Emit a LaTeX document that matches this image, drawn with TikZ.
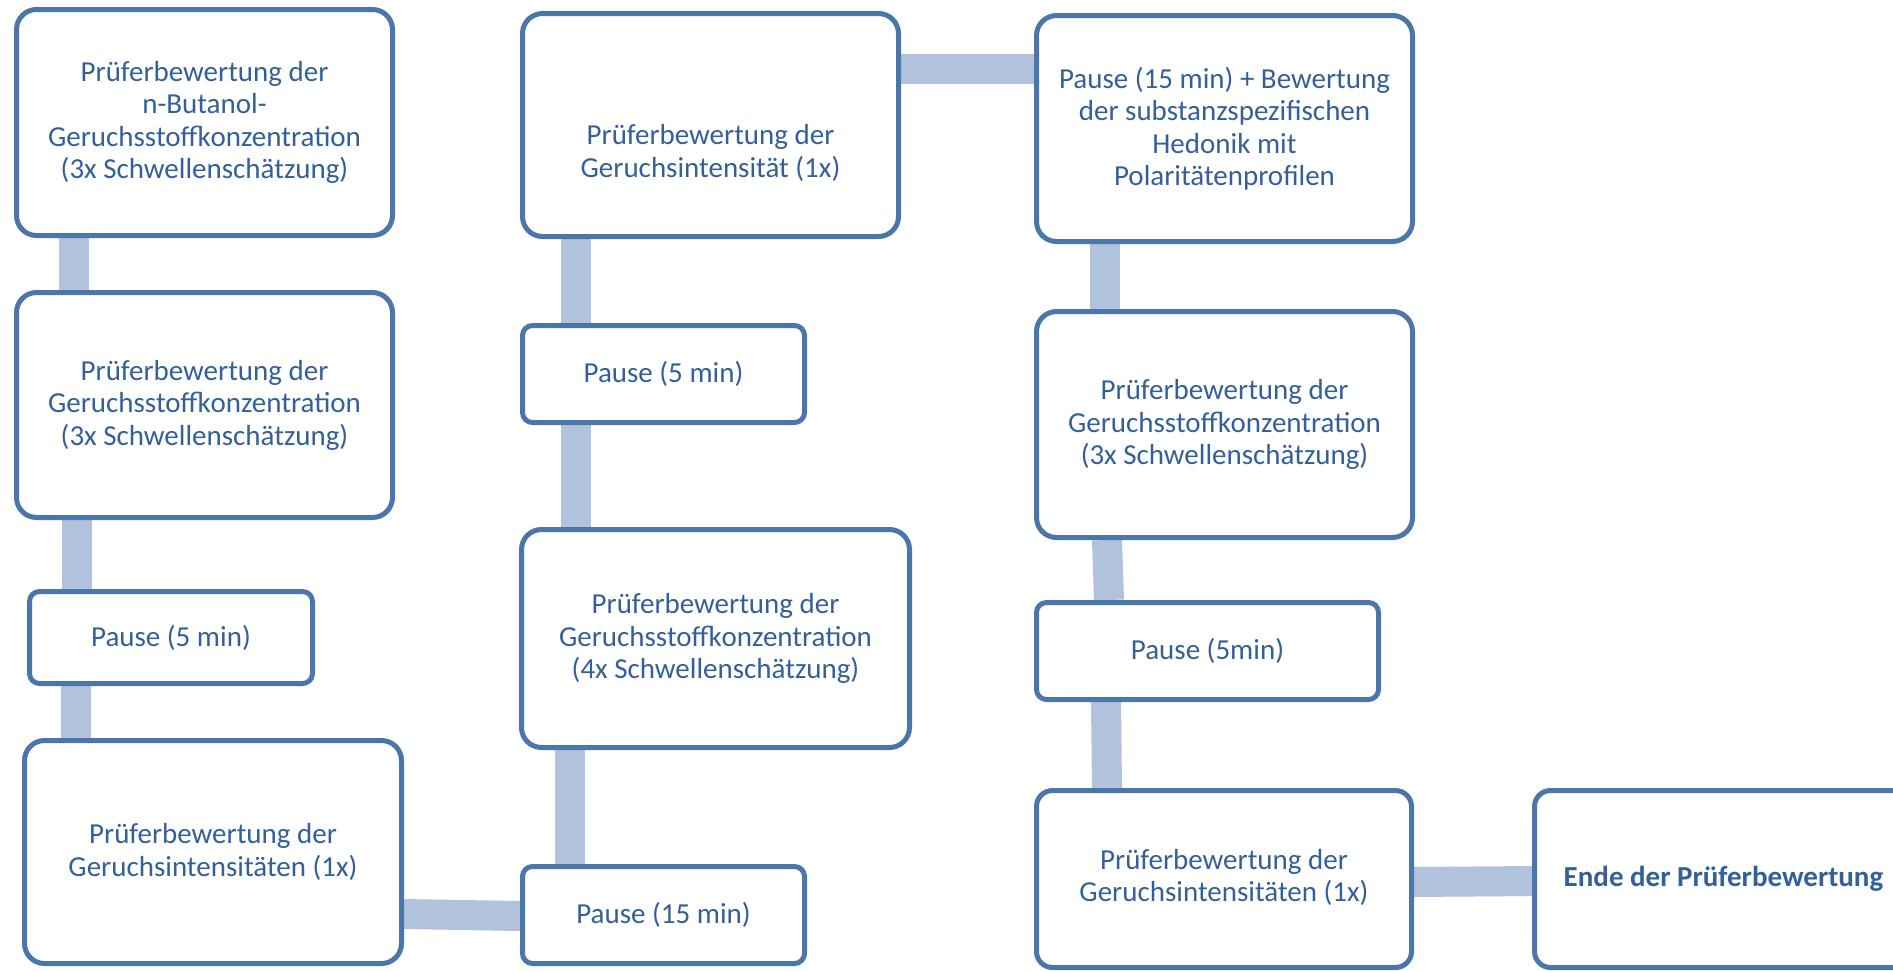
\documentclass[tikz,border=0pt]{standalone}
\usepackage{fontspec}
\setmainfont{Carlito}
\usetikzlibrary{calc,backgrounds}
\definecolor{bord}{HTML}{4A76AC}
\definecolor{txtc}{HTML}{33609A}
\definecolor{connc}{HTML}{B1C2DC}
\tikzset{
  box/.style={draw=bord, line width=5pt, fill=white, rounded corners=20pt,
    anchor=north west, align=center, text=txtc, inner sep=0pt,
    font=\fontsize{29}{32.5}\selectfont},
  smallbox/.style={box, rounded corners=10pt},
  txt/.style={align=center, text=txtc, inner sep=0pt, font=\fontsize{29}{32.5}\selectfont},
  link/.style={draw=connc, line width=30pt},
}
\begin{document}
\begin{tikzpicture}[x=1pt,y=-1pt]
\useasboundingbox (0,0) rectangle (1893,970);
\clip (0,0) rectangle (1893,970);
% column 1
\node[box, minimum width=376pt, minimum height=226pt] (A) at (14,7)
  {Prüferbewertung der\\n-Butanol-\\Geruchsstoffkonzentration\\(3x Schwellenschätzung)};
\node[box, minimum width=376pt, minimum height=225pt] (B) at (14,290)
  {Prüferbewertung der\\Geruchsstoffkonzentration\\(3x Schwellenschätzung)};
\node[smallbox, minimum width=283pt, minimum height=92pt] (C) at (27,589)
  {Pause (5 min)};
\node[box, minimum width=377pt, minimum height=223pt] (D) at (22,738)
  {Prüferbewertung der\\Geruchsintensitäten (1x)};
% column 2
\node[box, minimum width=376pt, minimum height=223pt] (E) at (520,11) {};
\node[txt] (Et) at ($(E.center)+(0,28)$) {Prüferbewertung der\\Geruchsintensität (1x)};
\node[smallbox, minimum width=282pt, minimum height=97pt] (F) at (520,323)
  {Pause (5 min)};
\node[box, minimum width=388pt, minimum height=218pt] (G) at (519,527)
  {Prüferbewertung der\\Geruchsstoffkonzentration\\(4x Schwellenschätzung)};
\node[smallbox, minimum width=282pt, minimum height=97pt] (H) at (520,864)
  {Pause (15 min)};
% column 3
\node[box, minimum width=376pt, minimum height=226pt] (I) at (1034,13)
  {Pause (15 min) + Bewertung\\der substanzspezifischen\\Hedonik mit\\Polaritätenprofilen};
\node[box, minimum width=376pt, minimum height=226pt] (J) at (1034,309)
  {Prüferbewertung der\\Geruchsstoffkonzentration\\(3x Schwellenschätzung)};
\node[smallbox, minimum width=342pt, minimum height=97pt] (K) at (1034,600)
  {Pause (5min)};
\node[box, rounded corners=16pt, minimum width=375pt, minimum height=177pt] (L) at (1034,788)
  {\raisebox{-3pt}{\begin{tabular}{@{}c@{}}Prüferbewertung der\\Geruchsintensitäten (1x)\end{tabular}}};
\node[box, rounded corners=16pt, minimum width=378pt, minimum height=177pt] (M) at (1532,788)
  {\raisebox{-3pt}{\bfseries Ende der Prüferbewertung}};
% connectors
\begin{scope}[on background layer]
\draw[link] ($(A.south west)+(60,0)$) -- ($(B.north west)+(60,0)$);
\draw[link] ($(B.south west)+(63,0)$) -- ($(C.north west)+(50,0)$);
\draw[link] ($(C.south west)+(49,0)$) -- ($(D.north west)+(54,0)$);
\draw[link] ($(D.north east)+(0,176)$) -- ($(H.north west)+(0,52)$);
\draw[link] ($(H.north west)+(50,0)$) -- ($(G.south west)+(51,0)$);
\draw[link] ($(G.north west)+(57,0)$) -- ($(F.south west)+(56,0)$);
\draw[link] ($(F.north west)+(56,0)$) -- ($(E.south west)+(56,0)$);
\draw[link] ($(E.north east)+(0,58)$) -- ($(I.north west)+(0,56)$);
\draw[link] ($(I.south west)+(71,0)$) -- ($(J.north west)+(71,0)$);
\draw[link] ($(J.south west)+(73,0)$) -- ($(K.north west)+(75,0)$);
\draw[link] ($(K.south west)+(72,0)$) -- ($(L.north west)+(73,0)$);
\draw[link] ($(L.north east)+(0,94)$) -- ($(M.north west)+(0,93)$);
\end{scope}
\end{tikzpicture}
\end{document}
